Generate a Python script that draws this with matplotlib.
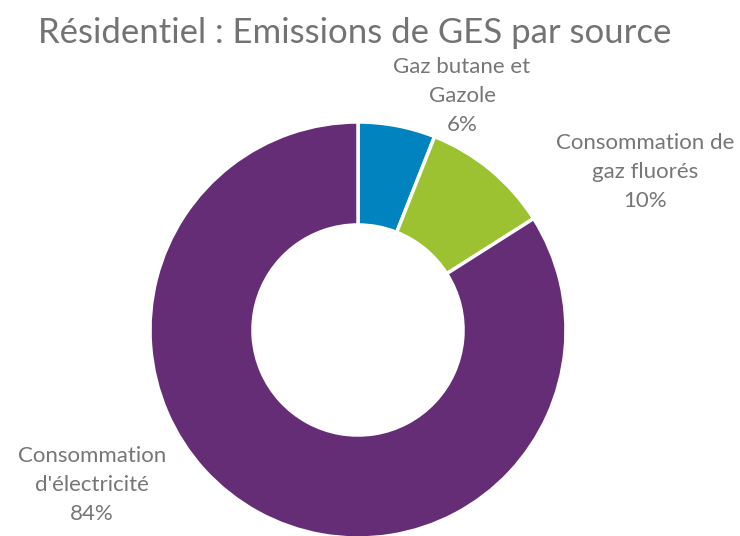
import matplotlib
matplotlib.use("Agg")
import matplotlib.pyplot as plt

categories = ["Gaz butane et\nGazole", "Consommation de\ngaz fluorés", "Consommation\nd'électricité"]
values = [6, 10, 84]
colors = ["#0083BE", "#9CC232", "#662D77"]

plt.rcParams['font.family'] = ['Lato', 'DejaVu Sans']

fig = plt.figure(figsize=(7.4, 5.36), dpi=100)
fig.patch.set_facecolor("white")

cx, cy, r = 358, 330, 208
W, H = 740, 536
ax = fig.add_axes([(cx - r) / W, (H - cy - r) / H, 2 * r / W, 2 * r / H])

wedges, _ = ax.pie(values, colors=colors, startangle=90, counterclock=False,
                   radius=1.0,
                   wedgeprops=dict(width=0.495, edgecolor="white", linewidth=2.5))
ax.set_xlim(-1, 1)
ax.set_ylim(-1, 1)
ax.axis("off")

label_pos = [(0.50, 1.125), (1.38, 0.76), (-1.28, -0.745)]
for cat, v, (x, y) in zip(categories, values, label_pos):
    ax.text(x, y, f"{cat}\n{v}%", ha="center", va="center", fontsize=16,
            color="#767676", linespacing=1.55, clip_on=False)

fig.text(355 / W, 1 - 33 / H, "Résidentiel : Emissions de GES par source",
         ha="center", va="center", fontsize=25, color="#737373")

fig.savefig("out.png", dpi=100)
